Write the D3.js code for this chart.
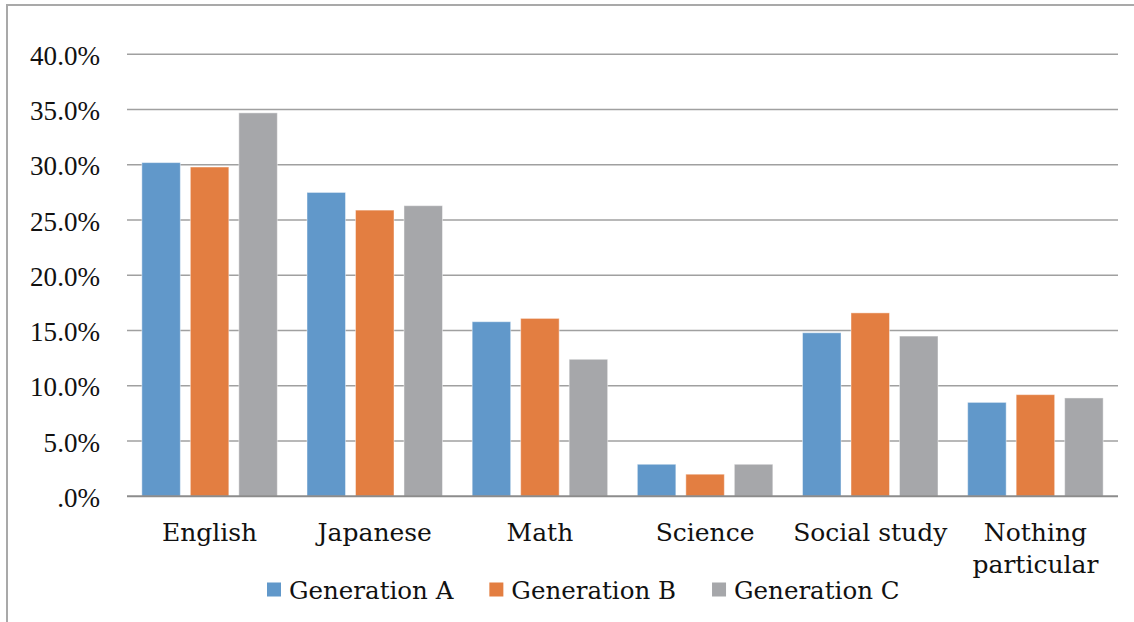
<!DOCTYPE html>
<html>
<head>
<meta charset="utf-8">
<script src="https://cdn.jsdelivr.net/npm/d3@7"></script>
<style>
  html, body { margin: 0; padding: 0; background: #fff; }
  svg { display: block; }
</style>
</head>
<body>
<svg id="chart" width="1134" height="622"></svg>
<script>
const categories = ["English", "Japanese", "Math", "Science", "Social study", "Nothing particular"];
const seriesNames = ["Generation A", "Generation B", "Generation C"];
const generationA = [0.302, 0.275, 0.158, 0.029, 0.148, 0.085];
const generationB = [0.298, 0.259, 0.161, 0.020, 0.166, 0.092];
const generationC = [0.347, 0.263, 0.124, 0.029, 0.145, 0.089];
const tickValues = [0, 0.05, 0.10, 0.15, 0.20, 0.25, 0.30, 0.35, 0.40];
const tickLabels = [".0%", "5.0%", "10.0%", "15.0%", "20.0%", "25.0%", "30.0%", "35.0%", "40.0%"];
const colors = ["#6198CA", "#E37E41", "#A6A7AA"];

const seriesValues = [generationA, generationB, generationC];

const svg = d3.select("#chart");
const plot = { left: 127, right: 1118, top: 54.3, bottom: 496.3 };
const serifTick = "'Liberation Serif', 'Times New Roman', serif";
const serifText = "'DejaVu Serif', serif";

// Frame (left + top visible)
svg.append("path")
  .attr("d", `M7,622 L7,5 L1134,5`)
  .attr("fill", "none")
  .attr("stroke", "#A9A9A9")
  .attr("stroke-width", 2);

const y = d3.scaleLinear().domain([0, 0.40]).range([plot.bottom, plot.top]);
const x = d3.scaleBand().domain(categories).range([plot.left, plot.right]).paddingInner(0).paddingOuter(0);
const xs = d3.scaleBand().domain(seriesNames).range([0, x.bandwidth()]).paddingInner(0.206).paddingOuter(0.306);

// Gridlines
svg.append("g").selectAll("line")
  .data(tickValues.filter(v => v > 0))
  .join("line")
  .attr("x1", plot.left).attr("x2", plot.right)
  .attr("y1", d => y(d)).attr("y2", d => y(d))
  .attr("stroke", "#A0A0A0")
  .attr("stroke-width", 1.5);

// Tick labels: size fitted so the widest label spans ~70px as in the reference
const probe = svg.append("text").style("font-family", serifTick).style("font-size", "24px").text(tickLabels[tickLabels.length - 1]);
const probeLen = probe.node().getComputedTextLength() || 70;
probe.remove();
const tickSize = Math.max(20, Math.min(30, 24 * 70 / probeLen));

svg.append("g").selectAll("text")
  .data(tickValues)
  .join("text")
  .attr("x", 100)
  .attr("y", d => y(d) + tickSize * 0.39)
  .attr("text-anchor", "end")
  .style("font-family", serifTick)
  .style("font-size", tickSize + "px")
  .attr("fill", "#111")
  .text((d, i) => tickLabels[i]);

// Bars
const groups = svg.append("g").selectAll("g")
  .data(seriesNames)
  .join("g")
  .attr("fill", (d, i) => colors[i]);

groups.each(function(s, si) {
  d3.select(this).selectAll("rect")
    .data(categories.map((c, ci) => ({ c, v: seriesValues[si][ci] })))
    .join("rect")
    .attr("x", d => x(d.c) + xs(s))
    .attr("width", xs.bandwidth())
    .attr("y", d => y(d.v))
    .attr("height", d => y(0) - y(d.v))
    .attr("stroke", "#ffffff")
    .attr("stroke-opacity", 0.45)
    .attr("stroke-width", 1);
});

// Baseline axis
svg.append("line")
  .attr("x1", plot.left).attr("x2", plot.right)
  .attr("y1", y(0)).attr("y2", y(0))
  .attr("stroke", "#8C8C8C")
  .attr("stroke-width", 2);

// Category labels
const catG = svg.append("g").selectAll("text")
  .data(categories)
  .join("text")
  .attr("text-anchor", "middle")
  .style("font-family", serifText)
  .style("font-size", "25px")
  .attr("fill", "#111");

catG.each(function(c) {
  const words = c === "Nothing particular" ? ["Nothing", "particular"] : [c];
  d3.select(this).selectAll("tspan")
    .data(words)
    .join("tspan")
    .attr("x", x(c) + x.bandwidth() / 2)
    .attr("y", (w, i) => 540.5 + i * 32)
    .text(w => w);
});

// Legend
const legend = svg.append("g");
let lx = 267;
seriesNames.forEach((s, i) => {
  legend.append("rect")
    .attr("x", lx).attr("y", 582.5)
    .attr("width", 14).attr("height", 14)
    .attr("fill", colors[i]);
  const t = legend.append("text")
    .attr("x", lx + 22).attr("y", 598.5)
    .style("font-family", serifText)
    .style("font-size", "24.5px")
    .attr("fill", "#111")
    .text(s);
  lx += 22 + t.node().getComputedTextLength() + 36;
});
</script>
</body>
</html>
